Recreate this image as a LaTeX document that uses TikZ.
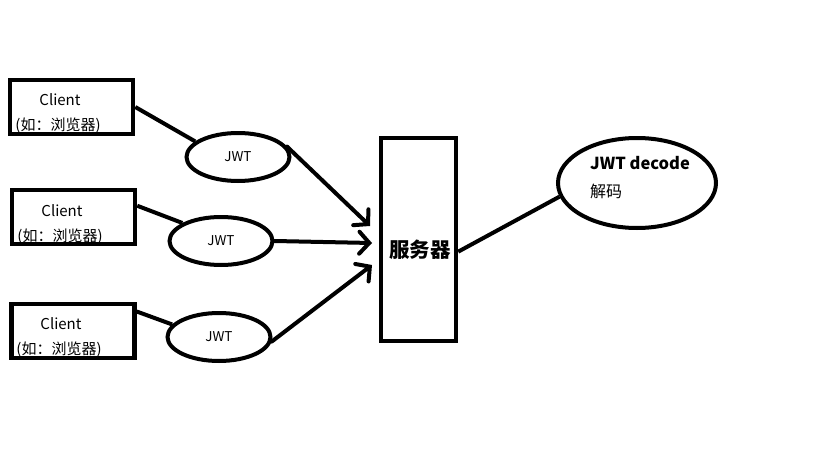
\documentclass[tikz,border=0pt]{standalone}
\usepackage{fontspec}
\setmainfont{Noto Sans CJK SC}
\usetikzlibrary{shapes.geometric,arrows.meta,calc}
\begin{document}
\begin{tikzpicture}[x=1pt,y=-1pt,
  thick line/.style={line width=4pt},
  clientbox/.style={draw,line width=4.5pt,minimum width=123pt,minimum height=54pt,inner sep=0pt},
  jwtell/.style={draw,ellipse,line width=4pt,minimum width=103pt,minimum height=48pt,inner sep=0pt,font=\fontsize{13.5}{15}\selectfont},
  ctext/.style={font=\fontsize{15}{17}\selectfont,inner sep=0pt},
  arr/.style={thick line,line cap=round,-{Straight Barb[length=10pt,width=22pt,line cap=round]}}
]
\useasboundingbox (0,0) rectangle (819,460);
% client boxes
\node[clientbox] (c1) at (71.5,107) {};
\node[clientbox] (c2) at (73.5,217) {};
\node[clientbox] (c3) at (73,331) {};
\node[ctext] (c1a) at (60,100) {Client};
\node[ctext] (c1b) at (58,126) {(如：浏览器)};
\node[ctext] (c2a) at (62,211) {Client};
\node[ctext] (c2b) at (60,237) {(如：浏览器)};
\node[ctext] (c3a) at (61,324) {Client};
\node[ctext] (c3b) at (59,350) {(如：浏览器)};
% JWT ellipses
\node[jwtell] (j1) at (238,157) {JWT};
\node[jwtell] (j2) at (221,241) {JWT};
\node[jwtell] (j3) at (219,337) {JWT};
% server
\node[draw,line width=4.5pt,minimum width=75pt,minimum height=203pt,inner sep=0pt] (srv) at (418.5,239.5) {};
\node[font=\bfseries\fontsize{20.5}{22}\selectfont,inner sep=0pt] (srvt) at (420,250) {服务器};
% decode ellipse
\node[draw,ellipse,line width=4pt,minimum width=158pt,minimum height=90pt,inner sep=0pt] (dec) at (637,183) {};
\node[font=\bfseries\fontsize{16.5}{18}\selectfont,inner sep=0pt,anchor=west] (dect) at (590,163) {JWT decode};
\node[font=\fontsize{16}{18}\selectfont,inner sep=0pt,anchor=west] (decc) at (590,191) {解码};
% arrow targets
\coordinate (t1) at (370,226);
\coordinate (t2) at (372,243);
\coordinate (t3) at (372,265);
% connectors
\draw[thick line] (c1.east) -- (j1.160);
\draw[thick line] (c2.10) -- (j2.155);
\draw[thick line] (c3.17) -- (j3.165);
\draw[arr] (j1.12) -- (t1);
\draw[arr] (j2.east) -- (t2);
\draw[arr] (j3.-5) -- (t3);
\draw[thick line] (srv.-17) -- (dec.190);
\end{tikzpicture}
\end{document}
